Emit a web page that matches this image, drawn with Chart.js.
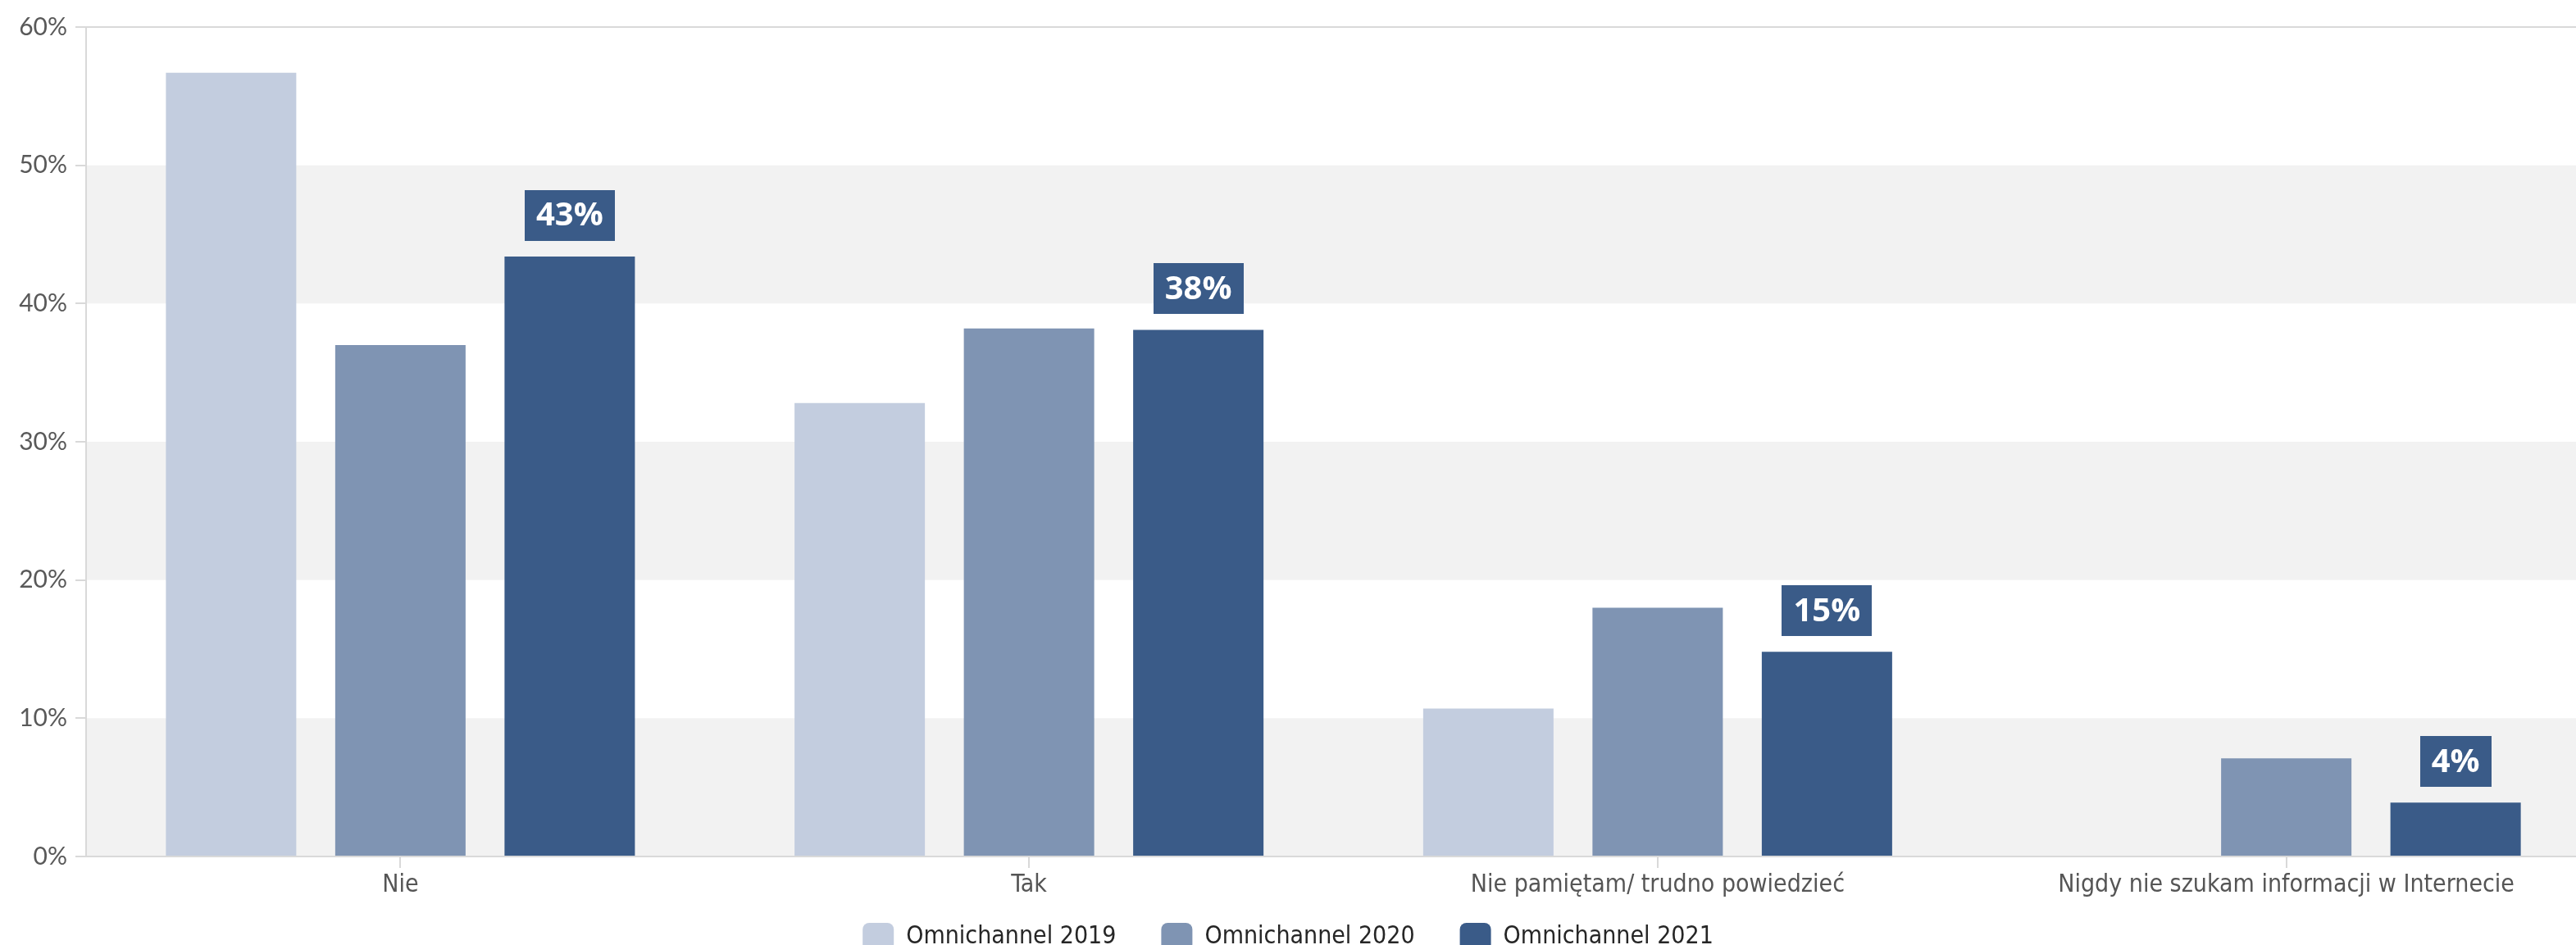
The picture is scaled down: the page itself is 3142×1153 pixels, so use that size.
<!DOCTYPE html>
<html lang="pl">
<head>
<meta charset="utf-8">
<title>Omnichannel 2019–2021</title>
<script src="https://cdn.jsdelivr.net/npm/chart.js@4/dist/chart.umd.min.js"></script>
<style>
  html, body { margin: 0; padding: 0; background: #ffffff; overflow: hidden; }
  #wrap { width: 3172px; height: 1153px; }
</style>
</head>
<body>
<div id="wrap"><canvas id="chart" width="3172" height="1153"></canvas></div>
<script>
// Answer categories
const categories = [
  'Nie',
  'Tak',
  'Nie pamiętam/ trudno powiedzieć',
  'Nigdy nie szukam informacji w Internecie'
];

// Survey waves
const seriesNames = ['Omnichannel 2019', 'Omnichannel 2020', 'Omnichannel 2021'];

// Share of respondents, in percent
const values2019 = [56.7, 32.8, 10.7, null];
const values2020 = [37.0, 38.2, 18.0, 7.1];
const values2021 = [43.4, 38.1, 14.8, 3.9];

// Value axis
const axisMin = 0;
const axisMax = 60;
const axisStep = 10;

const seriesColors = ['#c3cddf', '#7f94b3', '#3a5b88'];
const narrowFont = "'DejaVu Sans Condensed', 'DejaVu Sans', sans-serif";

// Alternating horizontal bands plus the top frame line
const bandPlugin = {
  id: 'bands',
  beforeDraw(chart) {
    const { ctx, chartArea: a, scales: { y } } = chart;
    ctx.save();
    ctx.fillStyle = '#f2f2f2';
    y.ticks.forEach((t, i) => {
      if (i % 2 === 0 && i + 1 < y.ticks.length) {
        const top = y.getPixelForValue(y.ticks[i + 1].value);
        const bottom = y.getPixelForValue(t.value);
        ctx.fillRect(a.left, top, a.right - a.left, bottom - top);
      }
    });
    ctx.strokeStyle = '#d9d9d9';
    ctx.lineWidth = 2;
    ctx.beginPath();
    ctx.moveTo(a.left, a.top);
    ctx.lineTo(a.right, a.top);
    ctx.stroke();
    ctx.restore();
  }
};

// Value tags above the latest wave's bars
const valueTags = {
  id: 'valueTags',
  afterDatasetsDraw(chart) {
    const idx = chart.data.datasets.length - 1;
    const ds = chart.data.datasets[idx];
    const meta = chart.getDatasetMeta(idx);
    const ctx = chart.ctx;
    ctx.save();
    ctx.font = "bold 40px 'Open Sans', 'Noto Sans', sans-serif";
    ctx.textAlign = 'center';
    ctx.textBaseline = 'middle';
    meta.data.forEach((bar, i) => {
      const v = ds.data[i];
      if (v === null || v === undefined) return;
      const text = Math.round(v) + '%';
      const w = ctx.measureText(text).width + 28;
      const h = 62;
      const bottom = bar.y - 19;
      ctx.fillStyle = ds.backgroundColor;
      ctx.fillRect(Math.round(bar.x - w / 2), Math.round(bottom - h), Math.round(w), h);
      ctx.fillStyle = '#ffffff';
      ctx.fillText(text, bar.x, bottom - h / 2 + 1);
    });
    ctx.restore();
  }
};

// Centre the legend row on the visible page and lift it under the axis labels
const legendPlacement = {
  id: 'legendPlacement',
  afterLayout(chart) {
    const lg = chart.legend;
    if (!lg) return;
    lg.right = document.documentElement.clientWidth;
    lg.top -= 34;
  }
};

const datasets = [values2019, values2020, values2021].map((vals, i) => ({
  label: seriesNames[i],
  data: vals,
  backgroundColor: seriesColors[i],
  borderWidth: 0,
  categoryPercentage: 0.808,
  barPercentage: 0.77
}));

new Chart(document.getElementById('chart'), {
  type: 'bar',
  data: { labels: categories, datasets },
  plugins: [bandPlugin, valueTags, legendPlacement],
  options: {
    responsive: false,
    animation: false,
    devicePixelRatio: 1,
    layout: { padding: { top: 33, left: 0, right: 0, bottom: 0 } },
    plugins: {
      tooltip: { enabled: false },
      legend: {
        position: 'bottom',
        maxHeight: 48,
        labels: {
          boxWidth: 38,
          boxHeight: 34,
          useBorderRadius: true,
          borderRadius: 8,
          padding: 55,
          color: '#262626',
          font: { family: narrowFont, size: 30 }
        }
      }
    },
    scales: {
      x: {
        grid: {
          offset: false,
          drawOnChartArea: false,
          drawTicks: true,
          tickLength: 14,
          color: '#d9d9d9',
          lineWidth: 2
        },
        border: { display: true, color: '#d9d9d9', width: 2 },
        ticks: {
          color: '#555555',
          padding: 6,
          maxRotation: 0,
          autoSkip: false,
          font: { family: narrowFont, size: 30, lineHeight: 1 }
        },
        afterFit(scale) { scale.height = 60; }
      },
      y: {
        min: axisMin,
        max: axisMax,
        grid: {
          drawOnChartArea: false,
          drawTicks: true,
          tickLength: 13,
          color: '#d9d9d9',
          lineWidth: 2
        },
        border: { display: true, color: '#d9d9d9', width: 2 },
        ticks: {
          stepSize: axisStep,
          padding: 10,
          color: '#595959',
          font: { family: "Lato, 'Open Sans', sans-serif", size: 30 },
          callback: (v) => v + '%'
        },
        afterFit(scale) { scale.width = 105; }
      }
    }
  }
});
</script>
</body>
</html>
